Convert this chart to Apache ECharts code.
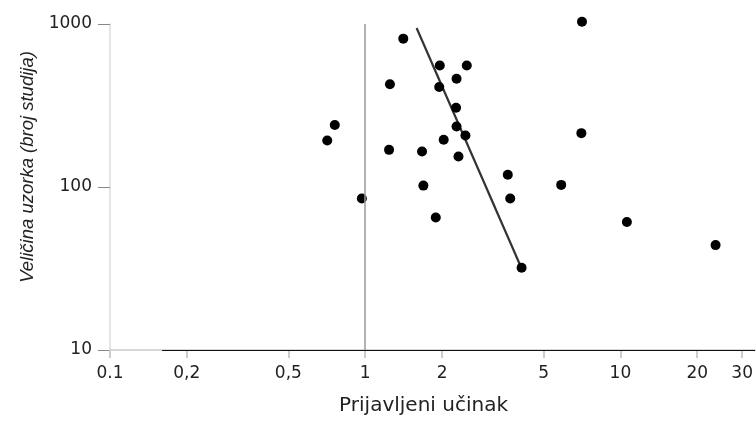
<!DOCTYPE html>
<html lang="hr">
<head>
<meta charset="UTF-8">
<title>Veličina uzorka i prijavljeni učinak</title>
<script src="https://cdn.jsdelivr.net/npm/echarts@6/dist/echarts.min.js"></script>
</head>
<body style="margin:0;background:#fff">
<div id="main" style="width:756px;height:421px;"></div>
<script>
// prijavljeni učinak (x) i veličina uzorka (y) za svaku studiju
var effect = [0.76, 0.71, 0.97, 1.41, 7.07, 1.96, 2.50, 2.28, 1.25, 1.95, 2.27, 2.28, 2.47,
    2.03, 7.03, 1.24, 1.67, 2.32, 3.62, 5.86, 1.69, 3.70, 1.89, 10.6, 23.6, 4.10];
var sampleSize = [240, 193, 85, 813, 1033, 557, 557, 462, 427, 411, 306, 235, 207,
    195, 214, 169, 165, 154, 119, 103, 102, 85, 65, 61, 44, 32];
// krajnje točke pravca trenda
var fitEffect = [1.59, 4.10];
var fitSize = [945, 31.6];
// oznake na osi x
var xTicks = [0.1, 0.2, 0.5, 1, 2, 5, 10, 20, 30];
var xTickLabels = ['0.1', '0,2', '0,5', '1', '2', '5', '10', '20', '30'];
var xMin = 0.1, xMax = 33.7;
var yMin = 10, yMax = 1000;
var noEffect = 1;

var points = effect.map(function (x, i) { return [x, sampleSize[i]]; });
var fitLine = fitEffect.map(function (x, i) { return [x, fitSize[i]]; });
var xTickPos = xTicks.map(function (t) { return Math.log10(t); });

var chart = echarts.init(document.getElementById('main'));

var option = {
    animation: false,
    backgroundColor: '#fff',
    grid: { left: 110, right: 0, top: 24, bottom: 69 },
    xAxis: [
        {
            type: 'log',
            min: xMin,
            max: xMax,
            name: 'Prijavljeni učinak',
            nameLocation: 'middle',
            nameGap: 46,
            nameTextStyle: { fontFamily: 'DejaVu Sans', fontSize: 20, color: '#222', padding: [0, 18, 0, 0] },
            axisLine: { onZero: false, lineStyle: { color: '#ccc', width: 1.5 } },
            axisTick: { show: false },
            axisLabel: { show: false },
            splitLine: { show: false }
        },
        {
            // samo za oznake: iste granice u log10 prostoru
            type: 'value',
            position: 'bottom',
            min: Math.log10(xMin),
            max: Math.log10(xMax),
            axisLine: { show: false, onZero: false },
            axisTick: { show: true, customValues: xTickPos, length: 8, lineStyle: { color: '#ccc', width: 2 } },
            axisLabel: {
                customValues: xTickPos,
                margin: 15,
                fontFamily: 'DejaVu Sans',
                fontSize: 17,
                color: '#222',
                formatter: function (v) {
                    for (var i = 0; i < xTickPos.length; i++) {
                        if (Math.abs(xTickPos[i] - v) < 1e-6) return xTickLabels[i];
                    }
                    return '';
                }
            },
            splitLine: { show: false }
        }
    ],
    yAxis: {
        type: 'log',
        min: yMin,
        max: yMax,
        name: 'Veličina uzorka (broj studija)',
        nameLocation: 'middle',
        nameGap: 67,
        nameTextStyle: {
            fontFamily: 'Liberation Sans', fontStyle: 'italic', fontSize: 18.5, color: '#222',
            padding: [0, 0, 0, 40]
        },
        axisLine: { onZero: false, lineStyle: { color: '#ddd', width: 1.5 } },
        axisTick: { length: 12, lineStyle: { color: '#888' } },
        axisLabel: {
            margin: 18, fontFamily: 'DejaVu Sans', fontSize: 17, color: '#222',
            formatter: function (v) { return String(v); }
        },
        splitLine: { show: false }
    },
    series: [
        {
            type: 'line',
            data: fitLine,
            symbol: 'none',
            clip: false,
            lineStyle: { color: '#333', width: 2.2 },
            z: 2
        },
        {
            type: 'scatter',
            data: points,
            symbolSize: 10,
            clip: false,
            itemStyle: { color: '#000', opacity: 1 },
            z: 3,
            markLine: {
                silent: true,
                symbol: 'none',
                label: { show: false },
                data: [
                    { xAxis: noEffect, lineStyle: { color: '#999', width: 1.5, type: 'solid', opacity: 1 } },
                    [
                        { coord: [0.16, yMin], lineStyle: { color: '#111', width: 1.2, type: 'solid', opacity: 1 } },
                        { coord: [xMax, yMin] }
                    ]
                ]
            }
        }
    ]
};

chart.setOption(option);
</script>
</body>
</html>
